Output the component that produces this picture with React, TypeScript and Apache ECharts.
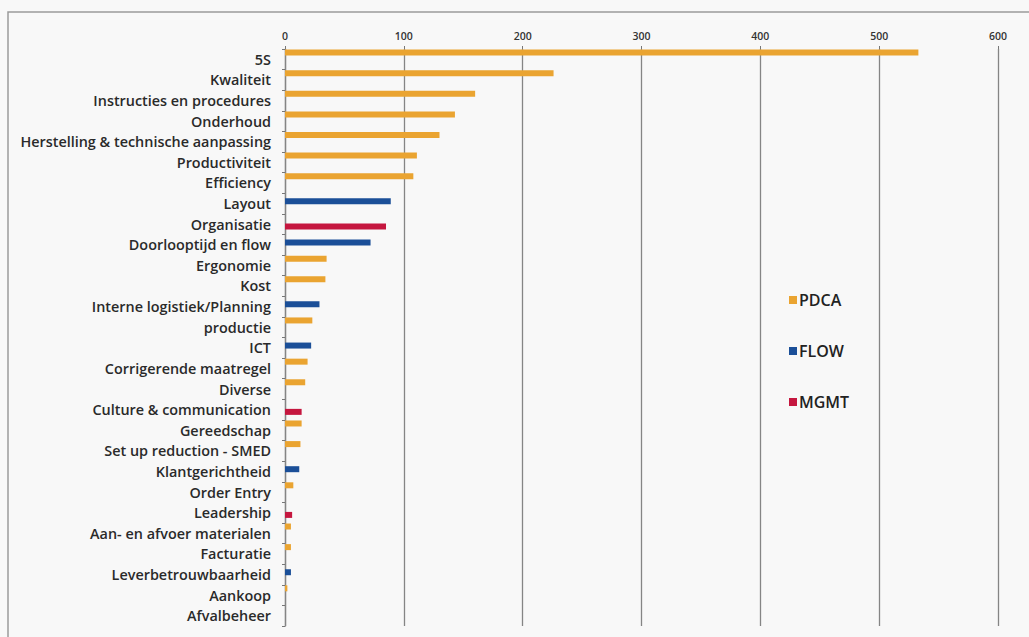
import React, { useEffect, useRef } from "react";
import * as echarts from "echarts";

const categories = [
  "5S",
  "Kwaliteit",
  "Instructies en procedures",
  "Onderhoud",
  "Herstelling & technische aanpassing",
  "Productiviteit",
  "Efficiency",
  "Layout",
  "Organisatie",
  "Doorlooptijd en flow",
  "Ergonomie",
  "Kost",
  "Interne logistiek/Planning",
  "productie",
  "ICT",
  "Corrigerende maatregel",
  "Diverse",
  "Culture & communication",
  "Gereedschap",
  "Set up reduction - SMED",
  "Klantgerichtheid",
  "Order Entry",
  "Leadership",
  "Aan- en afvoer materialen",
  "Facturatie",
  "Leverbetrouwbaarheid",
  "Aankoop",
  "Afvalbeheer",
];

const pdcaValues = [
  533, 226, 160, 143, 130, 111, 108, null, null, null, 35, 34, null, 23, null,
  19, 17, null, 14, 13, null, 7, null, 5, 5, null, 2, 0,
];
const flowValues = [
  null, null, null, null, null, null, null, 89, null, 72, null, null, 29, null,
  22, null, null, null, null, null, 12, null, null, null, null, 5, null, null,
];
const mgmtValues = [
  null, null, null, null, null, null, null, null, 85, null, null, null, null,
  null, null, null, null, 14, null, null, null, null, 6, null, null, null, null,
  null,
];

const seriesNames = ["PDCA", "FLOW", "MGMT"];
const seriesColors = ["#EAA431", "#1B4F98", "#C5173F"];
const xTicks = { min: 0, max: 600, interval: 100 };

export default function App() {
  const ref = useRef<HTMLDivElement>(null);
  useEffect(() => {
    if (!ref.current) return;
    const chart = echarts.init(ref.current, null, { renderer: "svg" });
    const font = "'Open Sans', 'Noto Sans', sans-serif";
    const mk = (name: string, data: (number | null)[], color: string) => ({
      name,
      type: "bar",
      data,
      barWidth: 6,
      barGap: "-25%",
      itemStyle: { color },
      silent: true,
    });
    chart.setOption({
      animation: false,
      backgroundColor: "#f8f8f8",
      textStyle: { fontFamily: font },
      graphic: [
        {
          type: "rect",
          shape: { x: 8, y: 12, width: 1030, height: 640 },
          style: { fill: "none", stroke: "#9a9a9a", lineWidth: 1.5 },
          silent: true,
        },
      ],
      legend: {
        data: seriesNames,
        orient: "vertical",
        left: 784,
        top: 287,
        itemGap: 35,
        itemWidth: 8,
        itemHeight: 8,
        icon: "rect",
        textStyle: {
          fontSize: 16,
          fontWeight: 600,
          color: "#222",
          fontFamily: font,
          padding: [0, 0, 0, -3],
        },
      },
      grid: { left: 285, right: 31, top: 49, bottom: 11, containLabel: false },
      xAxis: {
        type: "value",
        position: "top",
        min: xTicks.min,
        max: xTicks.max,
        interval: xTicks.interval,
        axisLine: { show: false },
        axisTick: { show: true, length: 3, lineStyle: { color: "#777" } },
        axisLabel: { fontSize: 10.5, fontWeight: 600, color: "#333", margin: 8, fontFamily: font },
        splitLine: { show: true, lineStyle: { color: "#858585", width: 1.3 } },
      },
      yAxis: {
        type: "category",
        data: categories,
        inverse: true,
        axisLine: { show: true, lineStyle: { color: "#858585", width: 1.3 } },
        axisTick: { show: true, length: 3, interval: 0, lineStyle: { color: "#777" } },
        axisLabel: {
          interval: 0,
          fontSize: 14.4,
          fontWeight: 600,
          color: "#2a2a2a",
          margin: 14,
          fontFamily: font,
        },
        splitLine: { show: false },
      },
      series: [
        mk(seriesNames[0], pdcaValues, seriesColors[0]),
        mk(seriesNames[1], flowValues, seriesColors[1]),
        mk(seriesNames[2], mgmtValues, seriesColors[2]),
        {
          name: "spacer",
          type: "bar",
          data: categories.map(() => null),
          barWidth: 6,
          barGap: "-25%",
          silent: true,
        },
      ],
    });
    return () => chart.dispose();
  }, []);
  return (
    <div
      ref={ref}
      style={{ position: "fixed", left: 0, top: 0, width: 1029, height: 637 }}
    />
  );
}
